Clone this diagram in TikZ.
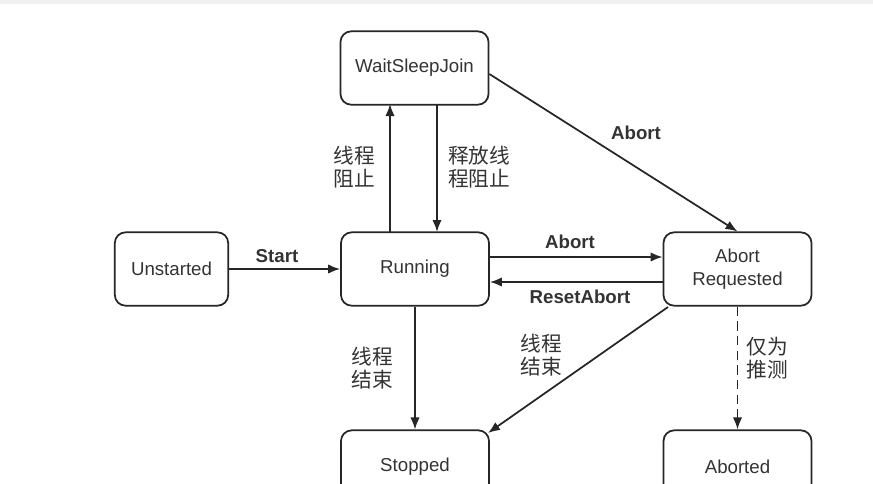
\documentclass[tikz,border=0pt]{standalone}
\usepackage{fontspec}
\setmainfont{Liberation Sans}
\newfontfamily\cjk{Noto Sans CJK SC}
\usetikzlibrary{arrows.meta}
\begin{document}
\begin{tikzpicture}[x=0.75pt,y=-0.75pt,
  state/.style={draw=black!85,line width=1.3pt,rounded corners=8pt,minimum width=111pt,minimum height=55pt,inner sep=0pt,font=\fontsize{14}{17}\selectfont,align=center,text=black!80},
  conn/.style={draw=black!85,line width=1.3pt,-{Latex[length=9pt,width=7pt]}},
  lbl/.style={font=\fontsize{14}{16}\selectfont\bfseries,text=black!80},
  zh/.style={font=\cjk\fontsize{15.5}{17}\selectfont,align=left,text=black!80}]
\useasboundingbox (0,0) rectangle (873,483);
\clip (0,0) rectangle (873,483);
\fill[white] (0,0) rectangle (873,483);
\fill[black!6] (0,0) rectangle (873,4);
\node[state] (wsj) at (414.5,68) {WaitSleepJoin};
\node[state,minimum width=85pt] (un) at (171.5,269) {Unstarted};
\node[state] (run) at (415,269) {Running};
\node[state] (ar) at (737.5,269) {Abort\\Requested};
\node[state] (st) at (415,467) {};
\node at (415,467) [font=\fontsize{14}{17}\selectfont,text=black!80] {Stopped};
\node[state] (ab) at (737.5,467) {};
\node at (737.5,467) [font=\fontsize{14}{17}\selectfont,text=black!80] {Aborted};
\coordinate (r1) at (390,232);
\coordinate (w1) at (390,104);
\coordinate (w2) at (437,104);
\coordinate (r2) at (437,232);
\draw[conn] (r1) -- (w1);
\draw[conn] (w2) -- (r2);
\node[zh] at (354,167) {线程\\阻止};
\node[zh] at (479,167) {释放线\\程阻止};
\draw[conn] (wsj.east |- 0,74) -- (ar.north);
\node[lbl] at (636,133) {Abort};
\draw[conn] (un) -- (run);
\node[lbl] at (277,256) {Start};
\draw[conn] (run.east |- 0,257) -- (ar.west |- 0,257);
\node[lbl] at (570,242) {Abort};
\draw[conn] (ar.west |- 0,282) -- (run.east |- 0,282);
\node[lbl] at (580,297) {ResetAbort};
\draw[conn] (run.south) -- (st.north);
\node[zh] at (372,368) {线程\\结束};
\draw[conn] (668,307) -- (488,433);
\node[zh] at (541,355) {线程\\结束};
\draw[conn,dashed,dash pattern=on 7pt off 4pt] (ar.south) -- (ab.north);
\node[zh] at (767,358) {仅为\\推测};
\end{tikzpicture}
\end{document}
